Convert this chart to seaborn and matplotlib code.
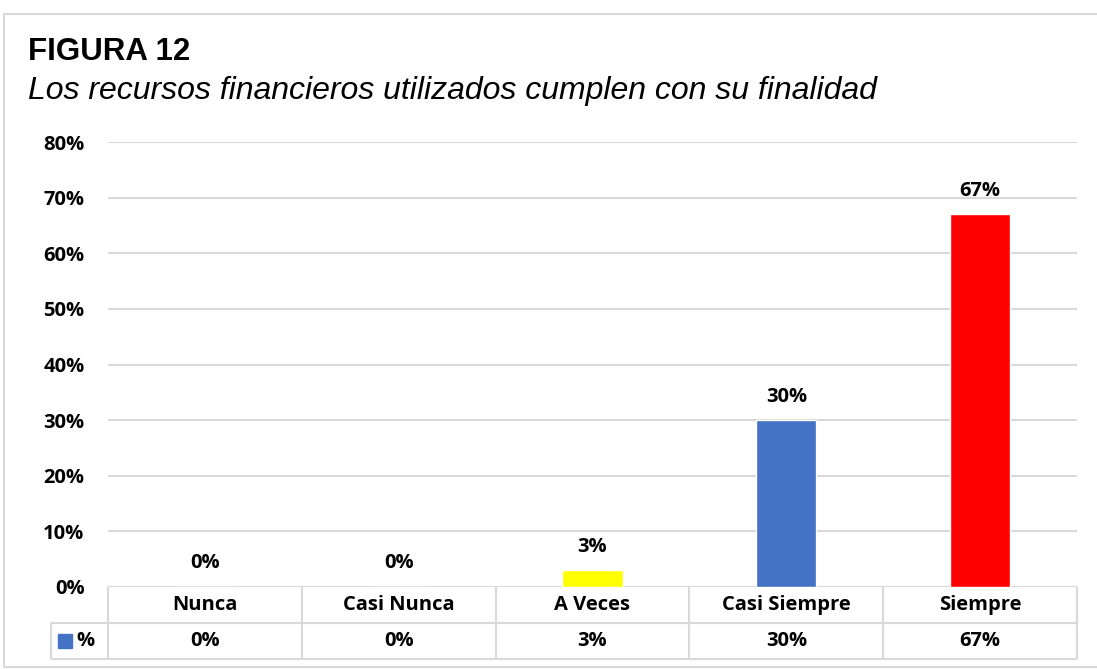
import matplotlib
matplotlib.use("Agg")
import matplotlib.pyplot as plt
import seaborn as sns
import pandas as pd
from matplotlib.patches import Rectangle

# ---- data ------------------------------------------------------------------
categories = ["Nunca", "Casi Nunca", "A Veces", "Casi Siempre", "Siempre"]
percent = [0, 0, 3, 30, 67]
bar_colors = ["#4472C4", "#4472C4", "#FFFF00", "#4472C4", "#FF0000"]
y_ticks = [0, 10, 20, 30, 40, 50, 60, 70, 80]
title = "FIGURA 12"
subtitle = "Los recursos financieros utilizados cumplen con su finalidad"
series_name = "%"

W, H = 1097, 669
GRID = "#D9D9D9"
LABEL_FONT = ["Open Sans", "DejaVu Sans"]
LABEL_SIZE = 14.5

sns.set_theme(style="white")
plt.rcParams["font.family"] = LABEL_FONT
plt.rcParams["text.color"] = "black"
plt.rcParams["ytick.color"] = "black"

df = pd.DataFrame({"cat": categories, "pct": percent})

fig = plt.figure(figsize=(W / 100, H / 100), dpi=100)

# outer frame
fig.patches.append(Rectangle((4 / W, 2 / H), 1.2, 1 - 16 / H, transform=fig.transFigure,
                             fill=False, edgecolor=GRID, lw=1.5))

fig.text(28 / W, 1 - 52 / H, title, family="Liberation Sans", weight="bold",
         size=22.5, va="center", ha="left")
fig.text(28 / W, 1 - 91 / H, subtitle, family="Liberation Sans", style="italic",
         size=23, va="center", ha="left")

# plot area in pixels
ax_l, ax_r, ax_t, ax_b = 108, 1077, 142, 587
ax = fig.add_axes([ax_l / W, 1 - ax_b / H, (ax_r - ax_l) / W, (ax_b - ax_t) / H])

sns.barplot(data=df, x="cat", y="pct", hue="cat", order=categories,
            palette=dict(zip(categories, bar_colors)), legend=False,
            width=0.31, saturation=1, ax=ax)

ax.set_xlim(-0.5, len(categories) - 0.5)
ax.set_ylim(0, 80)
ax.set_yticks(y_ticks)
ax.set_yticklabels([f"{v}%" for v in y_ticks], fontweight="bold", fontsize=LABEL_SIZE)
ax.tick_params(axis="y", length=0, pad=17)
ax.set_xticks([])
ax.set_xlabel("")
ax.set_ylabel("")
ax.yaxis.grid(True, color=GRID, lw=1.5)
ax.set_axisbelow(True)
for s in ax.spines.values():
    s.set_visible(False)

# data labels
for i, v in enumerate(percent):
    ax.annotate(f"{v}%", (i, v), xytext=(0, 17), textcoords="offset points",
                ha="center", va="center", fontweight="bold", fontsize=LABEL_SIZE)

# ---- data table below the axis ---------------------------------------------
ax_h = ax_b - ax_t
ax_w = ax_r - ax_l
row_h = 36 / ax_h
leg_left = (51 - ax_l) / ax_w
tx = ax.get_xaxis_transform()
line_kw = dict(color=GRID, lw=1.5, clip_on=False, solid_capstyle="butt")

n = len(categories)
ax.plot([-0.5, n - 0.5], [-row_h, -row_h], transform=tx, **line_kw)
ax.plot([leg_left, 1], [-row_h, -row_h], transform=ax.transAxes, **line_kw)
ax.plot([leg_left, 1], [-2 * row_h, -2 * row_h], transform=ax.transAxes, **line_kw)
ax.plot([leg_left, leg_left], [-row_h, -2 * row_h], transform=ax.transAxes, **line_kw)
for k in range(n + 1):
    ax.plot([k - 0.5, k - 0.5], [0, -2 * row_h], transform=tx, **line_kw)

for i, (c, v) in enumerate(zip(categories, percent)):
    ax.text(i, -row_h / 2, c, transform=tx, ha="center", va="center",
            fontweight="bold", fontsize=LABEL_SIZE)
    ax.text(i, -1.5 * row_h, f"{v}%", transform=tx, ha="center", va="center",
            fontweight="bold", fontsize=LABEL_SIZE)

# legend key in the table
sq = 14 / ax_w
ax.add_patch(Rectangle(((58 - ax_l) / ax_w, -1.5 * row_h - 7 / ax_h), sq, 14 / ax_h,
                       transform=ax.transAxes, color="#4472C4", clip_on=False))
ax.text((76 - ax_l) / ax_w, -1.5 * row_h, series_name, transform=ax.transAxes,
        ha="left", va="center", fontweight="bold", fontsize=LABEL_SIZE)

fig.savefig("out.png", dpi=100)
